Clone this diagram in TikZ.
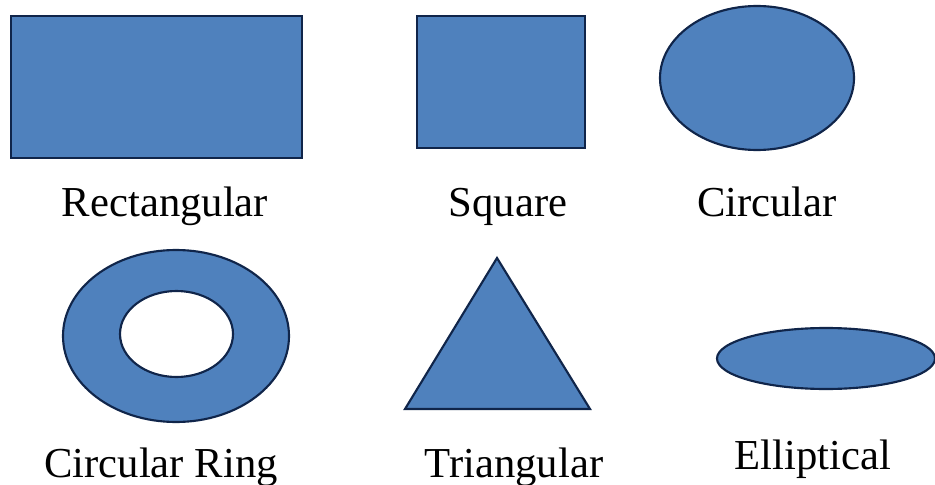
\documentclass[tikz,border=0pt]{standalone}
\usepackage{fontspec}
\setmainfont{Liberation Serif}
\usepackage{xcolor}
\definecolor{shapeblue}{HTML}{4F81BD}
\definecolor{navyline}{HTML}{10254A}

\begin{document}
\begin{tikzpicture}[
  x=0.75pt, y=-0.75pt,
  fig/.style={draw=navyline, fill=shapeblue, line width=1.6pt},
  lbl/.style={font=\fontsize{32}{38}\selectfont, anchor=base, inner sep=0pt}
]
  \useasboundingbox (0,0) rectangle (935,485);
  % top row
  \draw[fig] (11,16) rectangle (302,158);
  \draw[fig] (417,16) rectangle (585,148);
  \draw[fig] (757,78) ellipse [x radius=97, y radius=72];
  \node[lbl] (rectlbl) at (165,216) {Rectangular};
  \node[lbl] (sqlbl) at (508,216) {Square};
  \node[lbl] (circlbl) at (767,216) {Circular};
  % bottom row
  \draw[fig, even odd rule] (176,336) ellipse [x radius=113, y radius=86]
    (176.5,334) ellipse [x radius=56.5, y radius=43];
  \draw[fig] (497,258) -- (590,409) -- (405,409) -- cycle;
  \draw[fig] (826,358.5) ellipse [x radius=109, y radius=30.5];
  \node[lbl] (ringlbl) at (161,477) {Circular Ring};
  \node[lbl] (trilbl) at (514,477) {Triangular};
  \node[lbl] (elllbl) at (813,469) {Elliptical};
\end{tikzpicture}
\end{document}
